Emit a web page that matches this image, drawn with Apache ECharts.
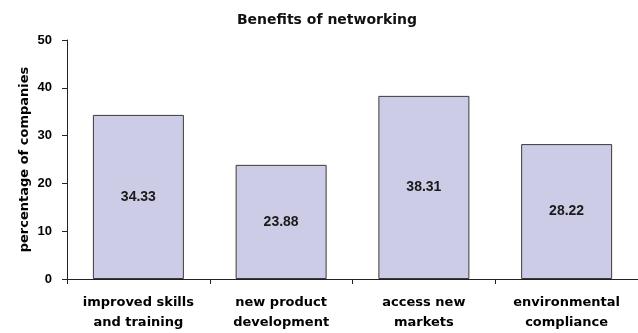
<!DOCTYPE html>
<html>
<head>
<meta charset="utf-8">
<script src="https://cdn.jsdelivr.net/npm/echarts@6/dist/echarts.min.js"></script>
<style>
  html, body { margin: 0; padding: 0; background: #fff; }
  #chart { width: 638px; height: 333px; }
</style>
</head>
<body>
<div id="chart"></div>
<script>
// Share of companies reporting each benefit of networking
const categories = [
  'improved skills\nand training',
  'new product\ndevelopment',
  'access new\nmarkets',
  'environmental\ncompliance'
];
const values = [34.33, 23.88, 38.31, 28.22];
const yTicks = [0, 10, 20, 30, 40, 50];

const chart = echarts.init(document.getElementById('chart'));
chart.setOption({
  animation: false,
  backgroundColor: '#ffffff',
  title: {
    text: 'Benefits of networking',
    left: 322,
    textAlign: 'center',
    top: 8,
    textStyle: { fontFamily: 'DejaVu Sans', fontSize: 14, fontWeight: 'bold', color: '#111' }
  },
  grid: { left: 67, right: -9, top: 40, bottom: 53, containLabel: false },
  xAxis: {
    type: 'category',
    data: categories,
    boundaryGap: true,
    axisLine: { lineStyle: { color: '#222', width: 1 } },
    axisTick: { show: true, interval: 0, length: 5, lineStyle: { color: '#222' } },
    axisLabel: {
      interval: 0,
      margin: 14,
      lineHeight: 20,
      fontFamily: 'DejaVu Sans',
      fontWeight: 'bold',
      fontSize: 13,
      color: '#000'
    }
  },
  yAxis: {
    type: 'value',
    min: yTicks[0],
    max: yTicks[yTicks.length - 1],
    interval: yTicks[1] - yTicks[0],
    name: 'percentage of companies',
    nameLocation: 'middle',
    nameGap: 36,
    nameMoveOverlap: false,
    nameTextStyle: { fontFamily: 'DejaVu Sans', fontWeight: 'bold', fontSize: 13, color: '#000' },
    axisLine: { show: true, lineStyle: { color: '#222', width: 1 } },
    axisTick: { show: true, length: 5, lineStyle: { color: '#222' } },
    splitLine: { show: false },
    axisLabel: {
      margin: 15,
      fontFamily: 'Liberation Sans',
      fontWeight: 'bold',
      fontSize: 13,
      color: '#000'
    }
  },
  series: [{
    type: 'bar',
    data: values,
    barWidth: 91,
    itemStyle: { color: '#ccccE6', borderColor: '#3a3a3a', borderWidth: 1 },
    label: {
      show: true,
      position: 'inside',
      fontFamily: 'Liberation Sans',
      fontWeight: 'bold',
      fontSize: 14,
      color: '#1a1a1a',
      formatter: p => p.value.toFixed(2)
    }
  }]
});
</script>
</body>
</html>
